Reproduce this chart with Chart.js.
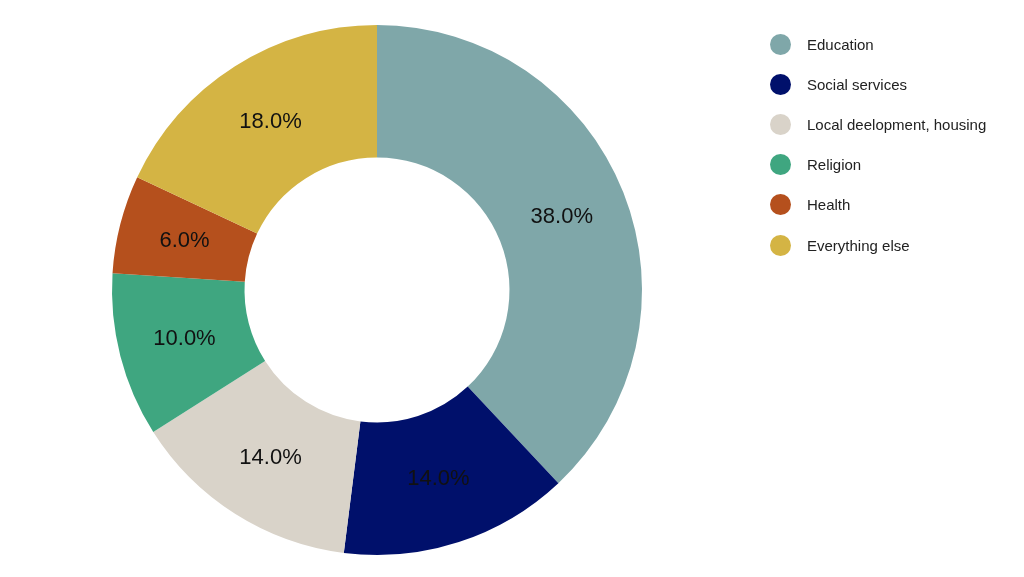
<!DOCTYPE html>
<html><head><meta charset="utf-8">
<script src="https://cdn.jsdelivr.net/npm/chart.js@4"></script>
<style>
body{margin:0;background:#fff;font-family:"Liberation Sans",Arial,sans-serif}
#wrap{position:relative;width:1024px;height:577px}
#legend{position:absolute;left:770px;top:24px}
.item{display:flex;align-items:center;height:40.2px;font-size:15px;color:#222}
.dot{width:21px;height:21px;border-radius:50%;margin-right:16px}
</style></head><body>
<div id="wrap"><canvas id="c" width="1024" height="577"></canvas><div id="legend"></div></div>
<script>
const categories=["Education","Social services","Local deelopment, housing","Religion","Health","Everything else"];
const values=[38,14,14,10,6,18];
const colors=["#7FA7A9","#00106B","#D9D3C9","#3FA680","#B5501D","#D4B444"];
const lg=document.getElementById('legend');
categories.forEach((c,i)=>{const d=document.createElement('div');d.className='item';d.innerHTML='<span class="dot" style="background:'+colors[i]+'"></span><span>'+c+'</span>';lg.appendChild(d);});
const labelPlugin={id:'lbl',afterDatasetsDraw(ch){const ctx=ch.ctx;ctx.save();ctx.font='22px "Liberation Sans", Arial';ctx.fillStyle='#111';ctx.textAlign='center';ctx.textBaseline='middle';
ch.getDatasetMeta(0).data.forEach((a,i)=>{const p=a.tooltipPosition();ctx.fillText(values[i].toFixed(1)+'%',p.x,p.y);});ctx.restore();}};
new Chart(document.getElementById('c'),{type:'doughnut',
data:{labels:categories,datasets:[{data:values,backgroundColor:colors,borderWidth:0}]},
options:{responsive:false,animation:false,cutout:'50%',layout:{padding:{left:0,right:270,top:25,bottom:22}},
plugins:{legend:{display:false},tooltip:{enabled:false}}},plugins:[labelPlugin]});
</script></body></html>
